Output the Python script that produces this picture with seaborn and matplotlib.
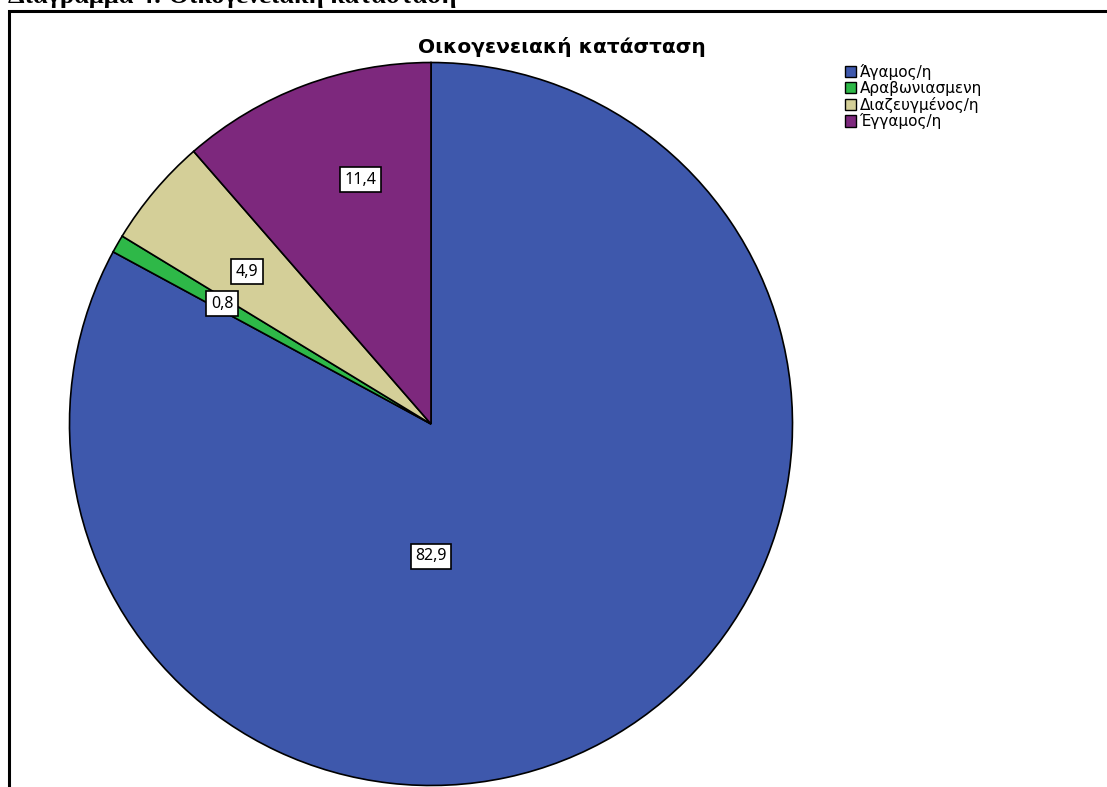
import matplotlib
matplotlib.use("Agg")
import matplotlib.pyplot as plt
import seaborn as sns
import numpy as np
from matplotlib.patches import Rectangle, Patch

sns.set_style("white")
plt.rcParams["font.family"] = ["DejaVu Sans"]
plt.rcParams["text.color"] = "black"

# Marital status shares (%)
categories = ["Άγαμος/η", "Αραβωνιασμενη", "Διαζευγμένος/η", "Έγγαμος/η"]
percentages = [82.9, 0.8, 4.9, 11.4]
value_labels = ["82,9", "0,8", "4,9", "11,4"]
colors = ["#3E58AC", "#2EB848", "#D4CF98", "#7D287D"]

# Label anchors in polar form (degrees, fraction of radius)
label_polar = [(-90.0, 0.366), (150.1, 0.667), (140.4, 0.661), (106.2, 0.703)]

W, H = 1107, 787
fig = plt.figure(figsize=(W / 100, H / 100), dpi=100)

cx, cy, r = 431, 424, 361.5
ax = fig.add_axes([(cx - r) / W, (H - cy - r) / H, 2 * r / W, 2 * r / H])
ax.pie(percentages, colors=colors, startangle=90, counterclock=False,
       wedgeprops=dict(edgecolor="black", linewidth=1.2))
ax.set_xlim(-1, 1)
ax.set_ylim(-1, 1)
ax.set_aspect("auto")
ax.axis("off")

for (ang, dist), txt in zip(label_polar, value_labels):
    a = np.deg2rad(ang)
    ax.text(dist * np.cos(a), dist * np.sin(a), txt, ha="center", va="center",
            fontsize=11.5, color="black", family=["Noto Sans", "DejaVu Sans"],
            bbox=dict(boxstyle="square,pad=0.28", facecolor="white",
                      edgecolor="black", linewidth=1.2))

# Chart title
fig.text(562 / W, 1 - 47 / H, "Οικογενειακή κατάσταση", ha="center", va="center",
         fontsize=14.5, fontweight="bold", color="black")

# Legend
handles = [Patch(facecolor=c, edgecolor="black", linewidth=1.0) for c in colors]
fig.legend(handles, categories, loc="upper left",
           bbox_to_anchor=(845 / W, 1 - 64 / H), frameon=False, fontsize=11,
           handlelength=0.75, handleheight=0.75, handletextpad=0.2,
           labelspacing=0.05, borderpad=0, borderaxespad=0, labelcolor="black")

# Outer frame
fig.add_artist(Rectangle((8.5 / W, -0.05), 1.2, 1 - 11 / H + 0.05,
                         transform=fig.transFigure, fill=False,
                         edgecolor="black", linewidth=2.2, clip_on=False))

# Caption above the frame
fig.text(8 / W, 1 - 3.5 / H, "Διάγραμμα 4: Οικογενειακή κατάσταση", ha="left",
         va="baseline", fontsize=19, fontweight="bold", color="black",
         family=["Liberation Serif", "DejaVu Serif"])

fig.savefig("out.png", dpi=100)
